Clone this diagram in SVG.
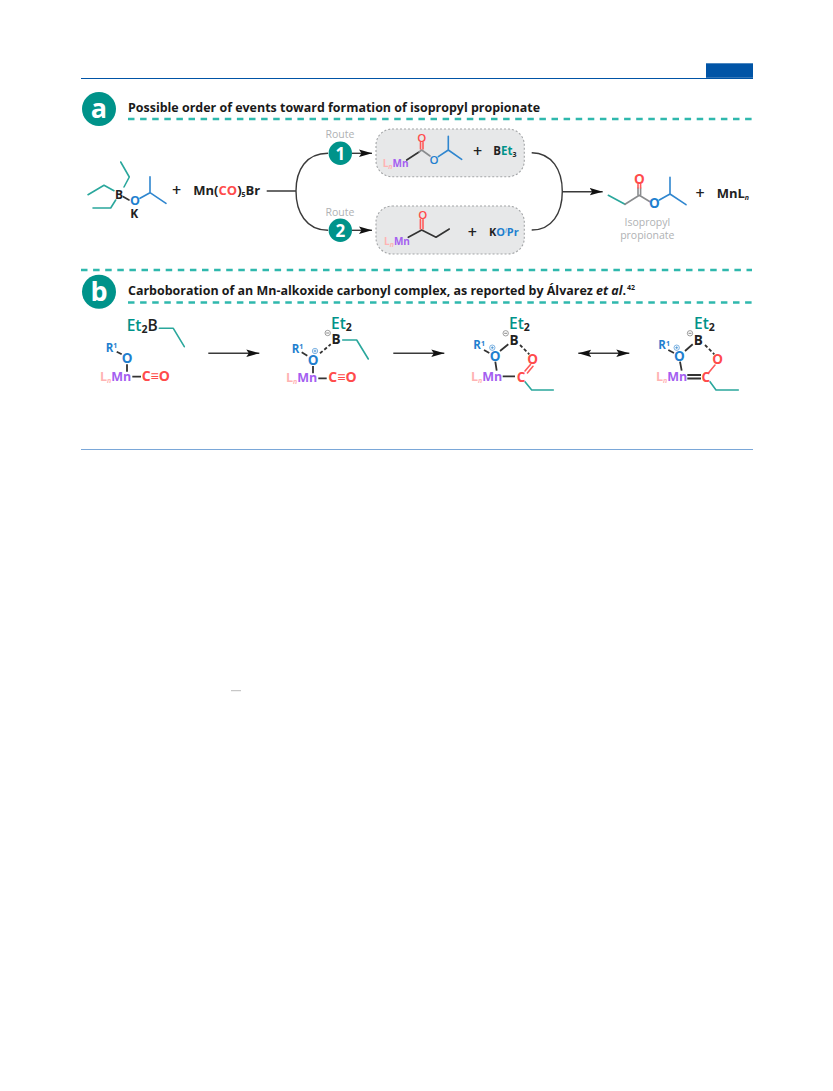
<svg xmlns="http://www.w3.org/2000/svg" width="833" height="1091" viewBox="0 0 833 1091">
<style>
text{font-family:"Open Sans","Noto Sans","Liberation Sans",sans-serif}
.t{font-size:12.6px;font-weight:700;fill:#1a1a1a}
.ch{font-size:12.5px;font-weight:700;fill:#222}
.lg{font-size:14px;font-weight:700}
.et{font-size:15.5px;font-weight:600}
.at{font-size:13.5px;font-weight:700}
.o{font-size:11.5px;font-weight:600}
.r{font-size:11.5px;font-weight:700}
.plus{font-size:16px;font-weight:600;fill:#222;text-anchor:middle}
.sub{font-size:7px}
.subl{font-size:10.5px;font-weight:700}
.gr{font-size:10.5px;fill:#b0b2b4;text-anchor:middle}
.teal{fill:#00938a}.blue{fill:#1f7fcf}.red{fill:#ff4b4b}.pur{fill:#a45ff0}.pink{fill:#ffb3b3}.blk{fill:#222}
.m{text-anchor:middle}
.num{font-size:17px;font-weight:700;fill:#fff;text-anchor:middle}
.let{font-size:27px;font-weight:700;fill:#fff;text-anchor:middle}
.dash{stroke:#2fb8ad;stroke-width:2.3;stroke-dasharray:6.5 5.6;fill:none}
.b{fill:none;stroke-width:1.6;stroke-linecap:round;stroke-linejoin:round}
.bt{stroke:#2aa79c}.bb{stroke:#2f86cf}.bk{stroke:#333}.br{stroke:#ff5a5a}.bg{stroke:#8a8c8e}
.hb{stroke:#333;stroke-width:1.8;fill:none}
.db{stroke-dasharray:3.4 2.2}
.con{fill:none;stroke:#3a3a3a;stroke-width:1.4}
.box{fill:#e7e8e9;stroke:#a3a5a7;stroke-width:1.1;stroke-dasharray:2 2}
.chg{fill:#fff;stroke:#777;stroke-width:.7}
</style>
<defs>
<marker id="ah" markerUnits="userSpaceOnUse" markerWidth="14" markerHeight="8" refX="13" refY="4" orient="auto-start-reverse"><path d="M0 .3 L13 4 L0 7.7 L2.5 4Z" fill="#111"/></marker>
</defs>

<g id="frame">
<rect x="706" y="63.3" width="47" height="14.5" fill="#0054a6"/>
<line x1="81" y1="78.5" x2="753" y2="78.5" stroke="#0054a6" stroke-width="1"/>
<line x1="81" y1="449.5" x2="753" y2="449.5" stroke="#7aa7d8" stroke-width="1"/>
<line x1="231" y1="690.7" x2="241" y2="690.7" stroke="#bbb" stroke-width="1"/>
<line class="dash" x1="128" y1="119" x2="752" y2="119"/>
<line class="dash" x1="81" y1="270" x2="752" y2="270"/>
<line class="dash" x1="128" y1="302.5" x2="752" y2="302.5"/>
</g>

<g id="panel-a-header">
<circle cx="99" cy="109" r="17" fill="#00938a"/>
<text class="let" x="99" y="118">a</text>
<text class="t" x="128" y="112" textLength="412" lengthAdjust="spacingAndGlyphs">Possible order of events toward formation of isopropyl propionate</text>
</g>
<g id="panel-b-header">
<circle cx="99" cy="291.7" r="17" fill="#00938a"/>
<text class="let" x="99" y="300.5">b</text>
<text class="t" x="128" y="295" textLength="498" lengthAdjust="spacingAndGlyphs">Carboboration of an Mn-alkoxide carbonyl complex, as reported by Álvarez <tspan font-style="italic">et al</tspan>.</text>
<text x="627" y="290" font-size="7" font-weight="700" fill="#1a1a1a">42</text>
</g>

<g id="connectors">
<path class="con" d="M266.7 191H296M328 153.3C306 153.3 296 170 296 191C296 212 306 230.3 328 230.3"/>
<line class="con" x1="352" y1="153.3" x2="372" y2="153.3" marker-end="url(#ah)"/>
<line class="con" x1="352" y1="230.3" x2="372" y2="230.3" marker-end="url(#ah)"/>
<path class="con" d="M531.7 152.7C552 153 562.3 170 562.3 191.5C562.3 213 552 230 531.7 230M562.3 191.7H602.7" marker-end="url(#ah)"/>
<line class="con" x1="208.3" y1="353.3" x2="259.3" y2="353.3" marker-end="url(#ah)"/>
<line class="con" x1="393.3" y1="353.3" x2="444.3" y2="353.3" marker-end="url(#ah)"/>
<line class="con" x1="578.3" y1="353.3" x2="629.3" y2="353.3" marker-start="url(#ah)" marker-end="url(#ah)"/>
</g>

<g id="reactant-borate">
<path class="b bt" d="M120.7 162L129.3 177L124 187M88 194.7L104 185.3L114 190.7M93 208H110.7L115.7 200"/>
<path class="b bk" d="M123.3 196.7L129 200"/>
<path class="b bb" d="M140 198.3L150 192.7L166 203.3M150 192.7V176.7"/>
<text class="at m blk" x="119" y="198.5" style="font-size:12px">B</text>
<text class="at m blue" x="135" y="205.3" style="font-size:12.5px">O</text>
<text class="at m blk" x="134.3" y="217.5" style="font-size:12px">K</text>
</g>
<text id="plus-1" class="plus" x="176.7" y="196">+</text>
<g id="reactant-mn">
<text class="ch" x="193.3" y="195.3" style="font-size:13px">Mn(<tspan class="red">CO</tspan>)<tspan class="sub" dy="2">5</tspan><tspan dy="-2">Br</tspan></text>
</g>

<g id="route-1">
<text class="gr" x="340" y="138">Route</text>
<circle cx="340.3" cy="153.3" r="11.7" fill="#00938a"/>
<text class="num" x="340.3" y="159.5">1</text>
</g>
<g id="route-2">
<text class="gr" x="340" y="215.5">Route</text>
<circle cx="340.3" cy="230.3" r="11.7" fill="#00938a"/>
<text class="num" x="340.3" y="236.5">2</text>
</g>

<g id="intermediate-1">
<rect class="box" x="376" y="129" width="148.3" height="47.7" rx="16"/>
<path class="b bk" d="M406.7 160L419 152"/>
<path class="b bg" d="M419 152L421.7 150L430 156"/>
<path class="b br" d="M420.5 149V142.5M423 149V142.5"/>
<path class="b bb" d="M438.3 156.7L448.3 150L461.7 159.3M448.3 150V136.3"/>
<text class="o m red" x="421.7" y="141.5">O</text>
<text class="o m blue" x="434" y="163.5">O</text>
<text x="382.7" y="167.3" font-size="10" font-weight="700"><tspan class="pink">L</tspan><tspan class="pink sub" dy="2" font-style="italic">n</tspan><tspan class="pur" dy="-2">Mn</tspan></text>
<text class="plus" x="477.7" y="156.5">+</text>
<text class="ch" x="493.3" y="155.3" style="font-size:11.5px"><tspan class="blk">B</tspan><tspan class="teal">Et</tspan><tspan class="sub blk" dy="2">3</tspan></text>
</g>

<g id="intermediate-2">
<rect class="box" x="376" y="206" width="148.3" height="48" rx="16"/>
<path class="b bk" d="M408.3 237.3L421.7 230L436 237.3L449.3 229"/>
<path class="b br" d="M420.4 229V219.5M423 229V219.5"/>
<text class="o m red" x="422.7" y="218.5">O</text>
<text x="384" y="245" font-size="10" font-weight="700"><tspan class="pink">L</tspan><tspan class="pink sub" dy="2" font-style="italic">n</tspan><tspan class="pur" dy="-2">Mn</tspan></text>
<text class="plus" x="472.3" y="237.5">+</text>
<text class="ch" x="489" y="236" style="font-size:11px"><tspan class="blk">K</tspan><tspan class="blue">O</tspan><tspan class="sub blue" dy="-3" font-style="italic" font-weight="400">i</tspan><tspan class="blue" dy="3">Pr</tspan></text>
</g>

<g id="product-ester">
<path class="b bt" d="M608.3 195.3L625 204.3"/>
<path class="b bg" d="M625 204.3L639.3 195.3L650 201.7"/>
<path class="b bg" d="M638 195V188M640.6 195V188"/>
<path class="b br" d="M638 188V184.5M640.6 188V184.5"/>
<path class="b bb" d="M659.3 200L670 194L686 204.7M670 194V177.3"/>
<text class="at m red" x="639.3" y="183.5">O</text>
<text class="at m blue" x="654.3" y="207.8">O</text>
<text class="gr" x="647.3" y="225.5">Isopropyl</text>
<text class="gr" x="647.3" y="238.8">propionate</text>
</g>
<text id="plus-2" class="plus" x="700" y="198.5">+</text>
<text id="product-mnl" class="ch" x="716.7" y="198" style="font-size:13px">MnL<tspan class="sub" dy="2" font-style="italic">n</tspan></text>

<g id="complex-1">
<path class="b bt" d="M159.3 328.3H173.3L184.3 346.7"/>
<path class="hb" d="M116.7 351.7L121.7 354.3M127 364.3V371.7M132.3 376.7H141"/>
<text class="et teal" x="126.7" y="331">Et<tspan class="subl blk" dy="2">2</tspan><tspan class="blk" dy="-2">B</tspan></text>
<text class="r blue" x="105.7" y="351.7">R<tspan class="sub" dy="-3.5">1</tspan></text>
<text class="at m blue" x="127" y="363.2">O</text>
<text x="100" y="381" font-size="12.5" font-weight="700"><tspan class="pink">L</tspan><tspan class="pink sub" dy="2" font-style="italic">n</tspan><tspan class="pur" dy="-2">Mn</tspan></text>
<text class="lg red" x="141.7" y="381">C≡O</text>
</g>

<g id="complex-2">
<path class="b bt" d="M342.7 340H356.7L368.3 359"/>
<path class="hb" d="M301.7 352.3L307.3 355.7M313 366V373.3M318.3 378.3H326.7"/>
<path class="hb db" d="M320 353.3L330.7 344.3"/>
<text class="et teal" x="331" y="328.5">Et<tspan class="subl blk" dy="2">2</tspan></text>
<text class="at m blk" x="336" y="344">B</text>
<circle class="chg" cx="327.7" cy="333" r="2.7"/><path d="M326.2 333h3" stroke="#555" stroke-width=".7"/>
<text class="r blue" x="291.7" y="352.7">R<tspan class="sub" dy="-3.5">1</tspan></text>
<text class="at m blue" x="313" y="364.5">O</text>
<circle class="chg" cx="315" cy="351" r="2.7" style="stroke:#4a94d6"/><path d="M313.5 351h3M315 349.5v3" stroke="#2f86cf" stroke-width=".7"/>
<text x="286" y="382.3" font-size="12.5" font-weight="700"><tspan class="pink">L</tspan><tspan class="pink sub" dy="2" font-style="italic">n</tspan><tspan class="pur" dy="-2">Mn</tspan></text>
<text class="lg red" x="328.3" y="382.3">C≡O</text>
</g>

<g id="complex-3">
<path class="b bt" d="M525 381.7L531.7 390H553.3"/>
<path class="hb" d="M484 350L489.3 353M500 351L508.3 344.3M495.3 361.7L496.7 370.7M502.7 376.3H515"/>
<path class="hb db" d="M520 345L529.3 354.3"/>
<path class="b br" d="M525 371L530.5 364.5M527.4 373L533 366.3"/>
<text class="et teal" x="509" y="328.5">Et<tspan class="subl blk" dy="2">2</tspan></text>
<text class="at m blk" x="514" y="344.5">B</text>
<circle class="chg" cx="505.7" cy="333.3" r="2.7"/><path d="M504.2 333.3h3" stroke="#555" stroke-width=".7"/>
<text class="r blue" x="473.3" y="349">R<tspan class="sub" dy="-3.5">1</tspan></text>
<text class="at m blue" x="495" y="360.7">O</text>
<circle class="chg" cx="492.3" cy="347.7" r="2.7" style="stroke:#4a94d6"/><path d="M490.8 347.7h3M492.3 346.2v3" stroke="#2f86cf" stroke-width=".7"/>
<text class="at m red" x="532.7" y="364.3">O</text>
<text class="at m red" x="521" y="381.7">C</text>
<text x="471" y="381" font-size="12.5" font-weight="700"><tspan class="pink">L</tspan><tspan class="pink sub" dy="2" font-style="italic">n</tspan><tspan class="pur" dy="-2">Mn</tspan></text>
</g>

<g id="complex-4">
<path class="b bt" d="M710 381.7L716 390H738.3"/>
<path class="hb" d="M668.3 350L674 353M685 351L692.7 344.3M680 361.7L681.7 370.7M687.3 375H701M687.3 378.5H701"/>
<path class="hb db" d="M705 345L714.3 354.3"/>
<path class="b br" d="M715 365L708.8 372.5"/>
<text class="et teal" x="694" y="328.5">Et<tspan class="subl blk" dy="2">2</tspan></text>
<text class="at m blk" x="698.3" y="344.5">B</text>
<circle class="chg" cx="690" cy="333.3" r="2.7"/><path d="M688.5 333.3h3" stroke="#555" stroke-width=".7"/>
<text class="r blue" x="658.3" y="349">R<tspan class="sub" dy="-3.5">1</tspan></text>
<text class="at m blue" x="679.3" y="360.7">O</text>
<circle class="chg" cx="676.7" cy="347.7" r="2.7" style="stroke:#4a94d6"/><path d="M675.2 347.7h3M676.7 346.2v3" stroke="#2f86cf" stroke-width=".7"/>
<text class="at m red" x="717.7" y="364.3">O</text>
<text class="at m red" x="705.7" y="381.7">C</text>
<text x="656" y="381" font-size="12.5" font-weight="700"><tspan class="pink">L</tspan><tspan class="pink sub" dy="2" font-style="italic">n</tspan><tspan class="pur" dy="-2">Mn</tspan></text>
</g>
</svg>
